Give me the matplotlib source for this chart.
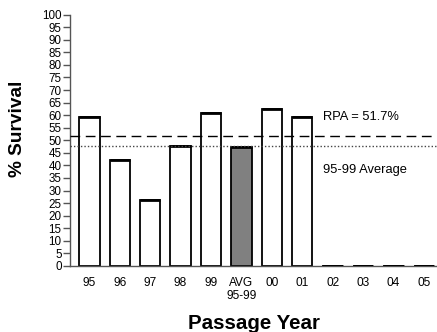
import numpy as np
import matplotlib
matplotlib.use('Agg')
import matplotlib.pyplot as plt

# Survival by passage year, with 95-99 average bar
years = ['95', '96', '97', '98', '99', 'AVG\n95-99', '00', '01', '02', '03', '04', '05']
survival = [59.1, 42.3, 26.1, 47.8, 61.0, 47.3, 62.5, 59.1, 0, 0, 0, 0]
fills = ['white'] * 5 + ['#808080'] + ['white'] * 6
rpa = 51.7
avg_9599 = 47.6

plt.rcParams['font.family'] = ['Liberation Sans', 'DejaVu Sans']

fig = plt.figure(figsize=(4.37, 3.32), dpi=100)
ax = fig.add_axes([0.160, 0.199, 0.840, 0.757])

x = np.arange(len(years))
w = 0.67
ax.bar(x, survival, width=w, color=fills, edgecolor='black', linewidth=1.3, zorder=2)
# heavier top edge on every bar
ax.hlines(survival, x - w / 2, x + w / 2, colors='black', linewidth=2.0, zorder=3)

ax.axhline(rpa, color='black', linestyle=(0, (7, 4)), linewidth=1.0, zorder=4)
ax.axhline(avg_9599, color='#444444', linestyle=(0, (1, 1.5)), linewidth=1.0, zorder=4)

ax.text(7.68, 59.4, 'RPA = 51.7%', fontsize=9.3, va='center', ha='left')
ax.text(7.68, 38.2, '95-99 Average', fontsize=9.3, va='center', ha='left')

ax.set_xlim(-0.64, 11.43)
ax.set_ylim(0, 100)
ax.set_yticks(np.arange(0, 101, 5))
ax.set_xticks(x)
ax.set_xticklabels(years, fontsize=8.6, linespacing=1.1)
ax.tick_params(axis='y', labelsize=8.4, length=5, width=1, color='#555555', pad=1)
ax.tick_params(axis='x', length=0, pad=8)

for s in ['top', 'right']:
    ax.spines[s].set_visible(False)
for s in ['left', 'bottom']:
    ax.spines[s].set_color('#555555')
    ax.spines[s].set_linewidth(1.0)

ax.set_ylabel('% Survival', fontsize=13.7, fontweight='bold')
ax.yaxis.set_label_coords(-0.120, 0.546)
ax.set_xlabel('Passage Year', fontsize=14.8, fontweight='bold', labelpad=9)

plt.savefig('out.png', dpi=100)
plt.close()
